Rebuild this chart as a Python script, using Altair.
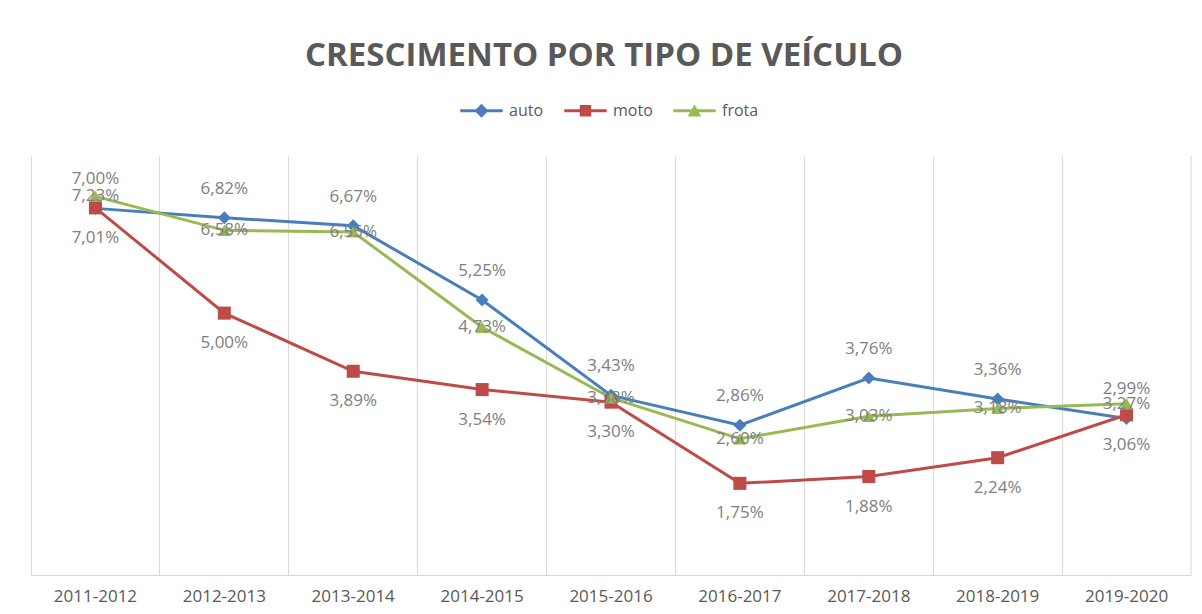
import altair as alt
import pandas as pd

categories = ["2011-2012", "2012-2013", "2013-2014", "2014-2015", "2015-2016",
              "2016-2017", "2017-2018", "2018-2019", "2019-2020"]
series_names = ["auto", "moto", "frota"]
auto = [7.00, 6.82, 6.67, 5.25, 3.43, 2.86, 3.76, 3.36, 2.99]
moto = [7.01, 5.00, 3.89, 3.54, 3.30, 1.75, 1.88, 2.24, 3.06]
frota = [7.23, 6.58, 6.55, 4.73, 3.38, 2.60, 3.03, 3.18, 3.27]
colors = ["#4A7EBB", "#BE4B48", "#98B954"]
shapes = ["diamond", "square", "triangle-up"]

rows = []
for name, vals in zip(series_names, [auto, moto, frota]):
    for c, v in zip(categories, vals):
        rows.append({"periodo": c, "serie": name, "valor": v,
                     "rotulo": f"{v:.2f}%".replace(".", ",")})
df = pd.DataFrame(rows)

W, H = 1160, 419
label_font = "Open Sans"

x_enc = alt.X("periodo:N", sort=categories, title=None,
              scale=alt.Scale(type="band", paddingInner=0, paddingOuter=0),
              axis=alt.Axis(bandPosition=0, grid=True, gridColor="#d9d9d9", gridWidth=1,
                            domainColor="#d9d9d9", domainWidth=1, ticks=False,
                            labelAngle=0, labelFont=label_font, labelFontSize=17,
                            labelColor="#595959", labelPadding=13))
y_enc = alt.Y("valor:Q", scale=alt.Scale(domain=[0, 8], nice=False, zero=True), axis=None)
color_scale = alt.Scale(domain=series_names, range=colors)

base = alt.Chart(df)

lines = base.mark_line(strokeWidth=3).encode(
    x=x_enc, y=y_enc,
    color=alt.Color("serie:N", scale=color_scale, legend=None),
    detail="serie:N",
)

markers = base.mark_point(filled=True, opacity=1, size=170).encode(
    x=x_enc, y=y_enc,
    color=alt.Color("serie:N", scale=color_scale, legend=None),
    shape=alt.Shape("serie:N", scale=alt.Scale(domain=series_names, range=shapes), legend=None),
)

def text_layer(name, dy):
    return base.transform_filter(alt.datum.serie == name).mark_text(
        font=label_font, fontSize=17, color="#808080", dy=dy
    ).encode(x=x_enc, y=y_enc, text="rotulo:N")

labels = text_layer("auto", -29) + text_layer("moto", 30) + text_layer("frota", 0)

# legend helper (hidden marks, only legend shown)
bar = "M-1,-0.07H1V0.07H-1Z "
legend_paths = [
    bar + "M0,-0.33L0.33,0L0,0.33L-0.33,0Z",
    bar + "M-0.27,-0.27H0.27V0.27H-0.27Z",
    bar + "M0,-0.3L0.32,0.27L-0.32,0.27Z",
]
legend_def = alt.Legend(title=None, orient="none", direction="horizontal",
                        legendX=429, legendY=-67, padding=0,
                        labelFont=label_font, labelFontSize=16,
                        labelColor="#595959", labelOffset=6,
                        columnPadding=20, symbolSize=1800,
                        symbolStrokeWidth=0)
legend_layer = base.mark_point(filled=True, size=1800, clip=True, opacity=1).encode(
    x=x_enc,
    y=alt.value(-2000),
    color=alt.Color("serie:N", scale=color_scale, legend=legend_def),
    shape=alt.Shape("serie:N", scale=alt.Scale(domain=series_names, range=legend_paths),
                    legend=legend_def),
)

right_edge = alt.Chart(pd.DataFrame({"d": [0]})).mark_rule(color="#d9d9d9", strokeWidth=1).encode(
    x=alt.value(W), y=alt.value(0), y2=alt.value(H)
)

chart = alt.layer(right_edge, lines, markers, labels, legend_layer).resolve_scale(
    color="independent", shape="independent"
).properties(
    width=W, height=H,
    view=alt.ViewBackground(strokeWidth=0, strokeOpacity=0),
    title=alt.Title("CRESCIMENTO POR TIPO DE VEÍCULO", font=label_font, fontSize=33,
                    fontWeight="bold", color="#595959", anchor="middle", frame="group",
                    offset=16, dx=-7),
    autosize=alt.AutoSizeParams(type="none"),
    padding={"left": 23, "top": 148, "right": 3, "bottom": 31},
).configure_view(strokeWidth=0, strokeOpacity=0).configure(background="white")

chart.save("out.html", embed_options={"renderer": "svg", "actions": False})
